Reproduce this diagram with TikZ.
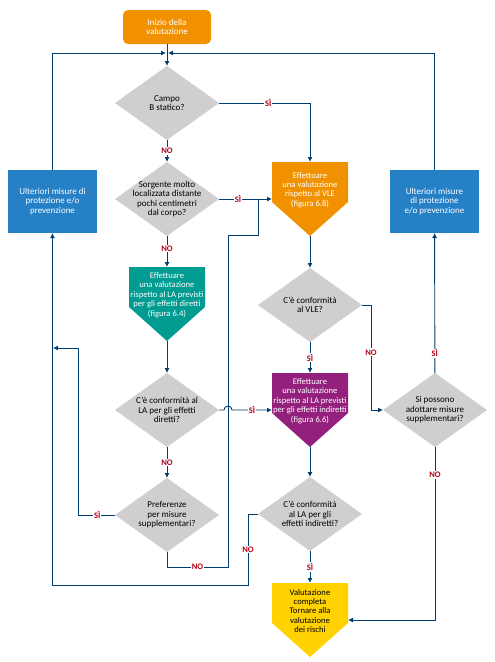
\documentclass[tikz,border=0pt]{standalone}
\usepackage{fontspec}
\setmainfont{Carlito}
\usetikzlibrary{shapes.geometric,arrows.meta}

\definecolor{lineblue}{RGB}{0,62,114}
\definecolor{labelred}{RGB}{178,0,22}
\definecolor{decgrey}{RGB}{208,207,208}
\definecolor{startorange}{RGB}{242,145,0}
\definecolor{tealbox}{RGB}{0,155,145}
\definecolor{purplebox}{RGB}{148,32,126}
\definecolor{yellowbox}{RGB}{255,210,0}
\definecolor{boxblue}{RGB}{38,128,198}

\tikzset{
  every node/.style={outer sep=0pt, font=\fontsize{9}{9.6}\selectfont},
  line/.style={draw=lineblue, line width=0.9pt},
  arr/.style={line, -{Latex[length=5pt,width=5pt]}},
  lab/.style={fill=white, text=labelred, inner sep=1pt,
    font=\fontsize{8.5}{9}\selectfont\bfseries},
  startbox/.style={rectangle, rounded corners=5pt, fill=startorange, text=white,
    minimum width=88pt, minimum height=34pt, align=center},
  measure/.style={rectangle, fill=boxblue, text=white, minimum width=89pt,
    minimum height=63pt, align=center},
  dec/.style={diamond, fill=decgrey, minimum width=104pt, minimum height=74pt,
    inner sep=0pt, label={[align=center]center:{#1}}},
  act/.style n args={3}{rectangle, minimum width=76pt, minimum height=74pt, inner sep=0pt,
    path picture={\fill[#1] (path picture bounding box.north west)
      -- (path picture bounding box.north east)
      -- ([yshift=34pt]path picture bounding box.south east)
      -- (path picture bounding box.south)
      -- ([yshift=34pt]path picture bounding box.south west) -- cycle;},
    label={[align=center, text=#2, yshift=9pt, font=\fontsize{8.6}{9.4}\selectfont]center:{#3}}}
}

\begin{document}
\begin{tikzpicture}[x=1pt, y=-1pt]
\useasboundingbox (0,0) rectangle (495,662);

% left column
\node[startbox] (start) at (167,27) {Inizio della\\valutazione};
\coordinate (merge) at (167,53);
\node[dec={Campo\\B statico?}] (campo) at (167,103) {};
\node[dec={Sorgente molto\\localizzata distante\\pochi centimetri\\dal corpo?}] (sorg) at (167,199) {};
\node[act={tealbox}{white}{Effettuare\\una valutazione\\rispetto al LA previsti\\per gli effetti diretti\\(figura 6.4)}] (diretti) at (167,304) {};
\node[dec={C'è conformità al\\LA per gli effetti\\diretti?}] (confdir) at (167,410) {};
\node[dec={Preferenze\\per misure\\supplementari?}] (pref) at (167,515) {};
\node[measure] (lmis) at (52.5,201.5) {Ulteriori misure di\\protezione e/o\\prevenzione};
\coordinate (ritorno) at (53,348);

% middle column
\node[act={startorange}{white}{Effettuare\\una valutazione\\rispetto al VLE\\(figura 6.8)}] (vle) at (310,199) {};
\node[dec={C'è conformità\\al VLE?}] (confvle) at (310,305) {};
\node[act={purplebox}{white}{Effettuare\\una valutazione\\rispetto al LA previsti\\per gli effetti indiretti\\(figura 6.6)}] (indir) at (310,410) {};
\node[dec={C'è conformità\\al LA per gli\\effetti indiretti?}] (confind) at (310,514) {};
\node[act={yellowbox}{black}{Valutazione\\completa\\Tornare alla\\valutazione\\dei rischi}] (fine) at (310,620) {};

% right column
\node[measure] (rmis) at (434.5,201.5) {Ulteriori misure\\di protezione\\e/o prevenzione};
\node[dec={Si possono\\adottare misure\\supplementari?}] (ancora) at (435,410) {};

% connectors
\draw[arr] (start) -- (campo);
\draw[arr] (lmis.north) |- ([xshift=-1pt]merge);
\draw[arr] (rmis.north) |- ([xshift=1pt]merge);
\draw[arr] (campo) -- node[lab]{NO} (sorg);
\draw[arr] (campo.east) -| node[lab, pos=0.27]{SÌ} (vle.north);
\draw[arr] (sorg.east) -- node[lab, pos=0.36]{SÌ} (vle.west);
\draw[arr] (sorg) -- node[lab, pos=0.4]{NO} (diretti);
\draw[arr] (diretti) -- (confdir);
\draw[arr] (confdir.east) -- (224,410) arc[start angle=180, end angle=0, radius=4pt]
  -- node[lab]{SÌ} (indir.west);
\draw[arr] (confdir) -- node[lab]{NO} (pref);
\draw[arr] (pref.west) -| node[lab, pos=0.24]{SÌ} (78,348) -- (ritorno);
\draw[line] (pref.south) |- node[lab, pos=0.75]{NO} (228,567) -- (228,235) -- (258,235) -- (258,199);
\draw[arr] (vle) -- (confvle);
\draw[arr] (confvle) -- node[lab]{SÌ} (indir);
\draw[arr] (confvle.east) -- ++(9,0) -- node[lab, pos=0.45]{NO} ++(0,105) -- (ancora.west);
\draw[arr] (indir) -- (confind);
\draw[arr] (confind) -- node[lab]{SÌ} (fine);
\draw[arr] (confind.west) -- ++(-10,0) -- node[lab]{NO} ++(0,71) -| (lmis.south);
\draw[arr] (ancora) -- node[lab, pos=0.14]{SÌ} (rmis);
\draw[arr] (ancora.south) |- node[lab, pos=0.08]{NO} (fine.east);
\end{tikzpicture}
\end{document}
